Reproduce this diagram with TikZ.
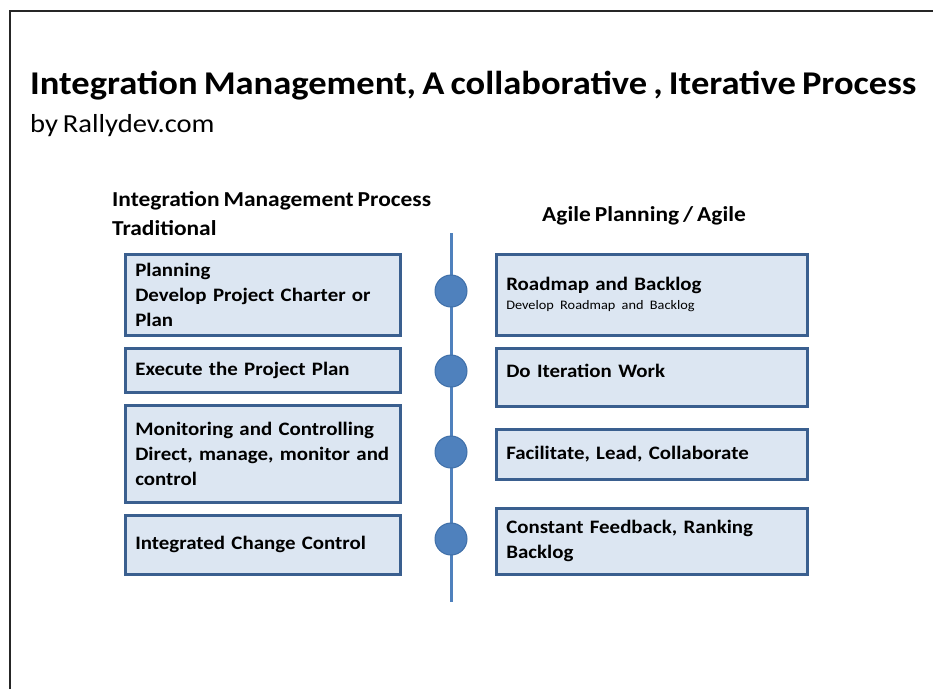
\documentclass[tikz,border=0pt]{standalone}
\usepackage{fontspec}
\setmainfont{Carlito}[FakeStretch=1.1, WordSpace=0.75]
\definecolor{boxfill}{HTML}{DCE6F2}
\definecolor{boxline}{HTML}{3A5F8F}
\definecolor{axis}{HTML}{4F81BD}
\definecolor{dotline}{HTML}{3F6FA8}
\usetikzlibrary{shapes.geometric}
\tikzset{
  boxL/.style={draw=boxline, fill=boxfill, line width=2.6pt, anchor=north west,
    minimum width=275pt, text width=255pt, inner xsep=10pt, align=left,
    font=\fontsize{19}{25}\selectfont\bfseries},
  boxR/.style={boxL, minimum width=311pt, text width=291pt},
  dot/.style={ellipse, draw=dotline, fill=axis, line width=1pt, minimum width=32pt, minimum height=32pt, inner sep=0pt},
  head/.style={anchor=north west, align=left, inner sep=0pt, font=\fontsize{21.3}{29}\selectfont\bfseries},
}
\begin{document}
\begin{tikzpicture}[x=1pt,y=-1pt]
\useasboundingbox (0,0) rectangle (933,689);
% frame
\draw[line width=1.6pt, black!85] (10,689) -- (10,11) -- (933,11);
% titles
\node[anchor=base west, inner sep=0pt, font=\fontsize{33.2}{40}\selectfont\bfseries] (title) at (30,94) {Integration Management, A collaborative , Iterative Process};
\node[anchor=base west, inner sep=0pt, font=\fontsize{26}{30}\selectfont] (sub) at (30,132) {by Rallydev.com};
\node[head] (hl) at (112,191) {Integration Management Process\\Traditional};
\node[anchor=base, inner sep=0pt, font=\fontsize{21.3}{29}\selectfont\bfseries] (hr) at (644,221) {Agile Planning / Agile};
% axis
\coordinate (top) at (451,233);
\coordinate (bot) at (451,602);
\draw[axis, line width=3pt] (top) -- (bot);
\node[dot] (c1) at (451,291) {};
\node[dot] (c2) at (451,371) {};
\node[dot] (c3) at (451,452) {};
\node[dot] (c4) at (451,539) {};
% left boxes
\node[boxL, minimum height=81pt] (l1) at (124,253) {Planning\\Develop Project Charter or\\Plan};
\node[boxL, minimum height=44pt] (l2) at (124,347) {Execute the Project Plan};
\node[boxL, minimum height=97pt] (l3) at (124,404) {Monitoring and Controlling\\Direct, manage, monitor and\\control};
\node[boxL, minimum height=59pt] (l4) at (124,514) {Integrated Change Control};
% right boxes
\node[boxR, minimum height=81pt] (r1) at (495,253) {Roadmap and Backlog\\[-6pt]{\fontsize{13}{14}\selectfont\mdseries Develop Roadmap and Backlog}};
\node[boxR, minimum height=58pt] (r2) at (495,347) {\raisebox{13pt}{Do Iteration Work}};
\node[boxR, minimum height=50pt] (r3) at (495,428) {Facilitate, Lead, Collaborate};
\node[boxR, minimum height=66pt] (r4) at (495,507) {Constant Feedback, Ranking\\Backlog};
\end{tikzpicture}
\end{document}
